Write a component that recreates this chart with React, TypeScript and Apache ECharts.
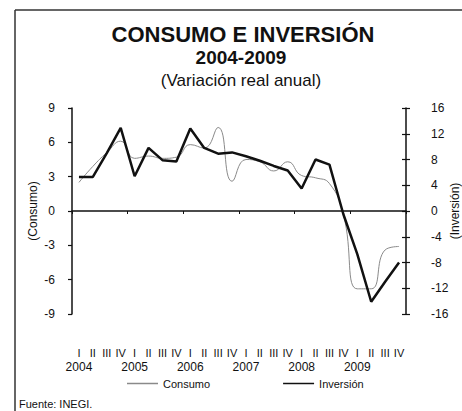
import React, { useEffect, useRef } from "react";
import * as echarts from "echarts";

const years = ["2004", "2005", "2006", "2007", "2008", "2009"];
const quarters = ["I", "II", "III", "IV"];
const consumo = [2.5, 3.9, 5.1, 6.1, 4.6, 4.8, 4.6, 4.7, 5.8, 5.5, 7.3, 2.6, 4.5, 4.3, 3.5, 4.3, 3.1, 2.9, 2.4, -0.3, -6.8, -6.8, -3.4, -3.1];
const inversion = [5.3, 5.3, 9.0, 12.9, 5.4, 9.8, 7.9, 7.7, 12.8, 9.8, 8.9, 9.1, 8.5, 7.8, 7.0, 6.3, 3.5, 8.0, 7.2, -0.5, -6.7, -14.1, -11.0, -8.0];

const categories: string[] = [];
years.forEach((y) => quarters.forEach((q) => categories.push(q + "|" + y)));

const FONT = "Liberation Sans, Arial, sans-serif";

export default function App() {
  const ref = useRef<HTMLDivElement>(null);
  useEffect(() => {
    if (!ref.current) return;
    const chart = echarts.init(ref.current, undefined, { renderer: "svg" });
    const axisLineStyle = { color: "#111", width: 1.5 };
    chart.setOption({
      animation: false,
      backgroundColor: "#fff",
      textStyle: { fontFamily: FONT },
      grid: { left: 72, right: 56, top: 108, bottom: 97, containLabel: false, outerBoundsMode: "none" },
      legend: {
        left: 122,
        top: 373,
        icon: "rect",
        itemWidth: 31,
        itemHeight: 1.5,
        itemGap: 73,
        textStyle: { fontSize: 11, color: "#111", fontFamily: FONT },
        data: [
          { name: "Consumo", itemStyle: { color: "#8a8a8a" } },
          { name: "Inversión", itemStyle: { color: "#111" } },
        ],
      },
      graphic: [
        { type: "line", shape: { x1: 15, y1: 10, x2: 470, y2: 10 }, style: { stroke: "#333", lineWidth: 1.5 } },
        { type: "line", shape: { x1: 15, y1: 10, x2: 15, y2: 420 }, style: { stroke: "#333", lineWidth: 1.5 } },
        { type: "text", x: 243, y: 34, style: { text: "CONSUMO E INVERSIÓN", font: "bold 22px " + FONT, fill: "#111", align: "center", verticalAlign: "middle" } },
        { type: "text", x: 241, y: 57, style: { text: "2004-2009", font: "bold 19px " + FONT, fill: "#111", align: "center", verticalAlign: "middle" } },
        { type: "text", x: 241, y: 80, style: { text: "(Variación real anual)", font: "17px " + FONT, fill: "#111", align: "center", verticalAlign: "middle" } },
        { type: "text", x: 19, y: 404, style: { text: "Fuente: INEGI.", font: "11px " + FONT, fill: "#111", align: "left", verticalAlign: "middle" } },
      ],
      xAxis: [
        {
          type: "category",
          data: categories,
          boundaryGap: true,
          position: "bottom",
          axisLine: { onZero: true, lineStyle: axisLineStyle },
          axisTick: { show: true, length: 3, lineStyle: { color: "#111", width: 1 } },
          axisLabel: { show: false },
          splitLine: { show: false },
        },
        {
          type: "category",
          data: categories,
          boundaryGap: true,
          position: "bottom",
          axisLine: { show: false, onZero: false },
          axisTick: { show: false },
          splitLine: { show: false },
          axisLabel: {
            show: true,
            interval: 0,
            margin: 32,
            hideOverlap: false,
            color: "#111",
            formatter: (v: string) => {
              const [q, y] = v.split("|");
              return q === "I" ? "{q|" + q + "}\n{y|" + y + "}" : "{q|" + q + "}";
            },
            rich: {
              q: { fontSize: 11, lineHeight: 14, fontFamily: FONT, color: "#111" },
              y: { fontSize: 12, lineHeight: 14, fontFamily: FONT, color: "#111" },
            },
          },
        },
      ],
      yAxis: [
        {
          type: "value",
          position: "left",
          min: -9,
          max: 9,
          interval: 3,
          name: "(Consumo)",
          nameLocation: "middle",
          nameGap: 33,
          nameMoveOverlap: false,
          nameTextStyle: { fontSize: 12, color: "#111", fontFamily: FONT },
          axisLine: { show: true, lineStyle: axisLineStyle },
          axisTick: { show: true, inside: false, length: 4, lineStyle: { color: "#111", width: 1.2 } },
          axisLabel: { margin: 17, fontSize: 12, color: "#111", fontFamily: FONT },
          splitLine: { show: false },
        },
        {
          type: "value",
          position: "right",
          min: -16,
          max: 16,
          interval: 4,
          name: "(Inversión)",
          nameLocation: "middle",
          nameRotate: 90,
          nameGap: 43,
          nameMoveOverlap: false,
          nameTextStyle: { fontSize: 12, color: "#111", fontFamily: FONT },
          axisLine: { show: true, lineStyle: axisLineStyle },
          axisTick: { show: true, inside: false, length: 4, lineStyle: { color: "#111", width: 1.2 } },
          axisLabel: { margin: 19, align: "left", padding: [0, 0, 0, 6], fontSize: 12, color: "#111", fontFamily: FONT },
          splitLine: { show: false },
        },
        {
          type: "value",
          position: "right",
          min: -16,
          max: 16,
          interval: 4,
          axisLine: { show: false },
          axisTick: { show: true, inside: true, length: 4, lineStyle: { color: "#111", width: 1.2 } },
          axisLabel: { show: false },
          splitLine: { show: false },
        },
      ],
      series: [
        {
          name: "Consumo",
          type: "line",
          xAxisIndex: 0,
          yAxisIndex: 0,
          data: consumo,
          smooth: 0.5,
          symbol: "none",
          lineStyle: { color: "#8a8a8a", width: 1 },
          itemStyle: { color: "#8a8a8a" },
          z: 3,
        },
        {
          name: "Inversión",
          type: "line",
          xAxisIndex: 0,
          yAxisIndex: 1,
          data: inversion,
          smooth: false,
          symbol: "none",
          lineStyle: { color: "#111", width: 2.5 },
          itemStyle: { color: "#111" },
          z: 4,
        },
      ],
    });
    return () => chart.dispose();
  }, []);
  return <div ref={ref} style={{ position: "absolute", left: 0, top: 0, width: 462, height: 411 }} />;
}
